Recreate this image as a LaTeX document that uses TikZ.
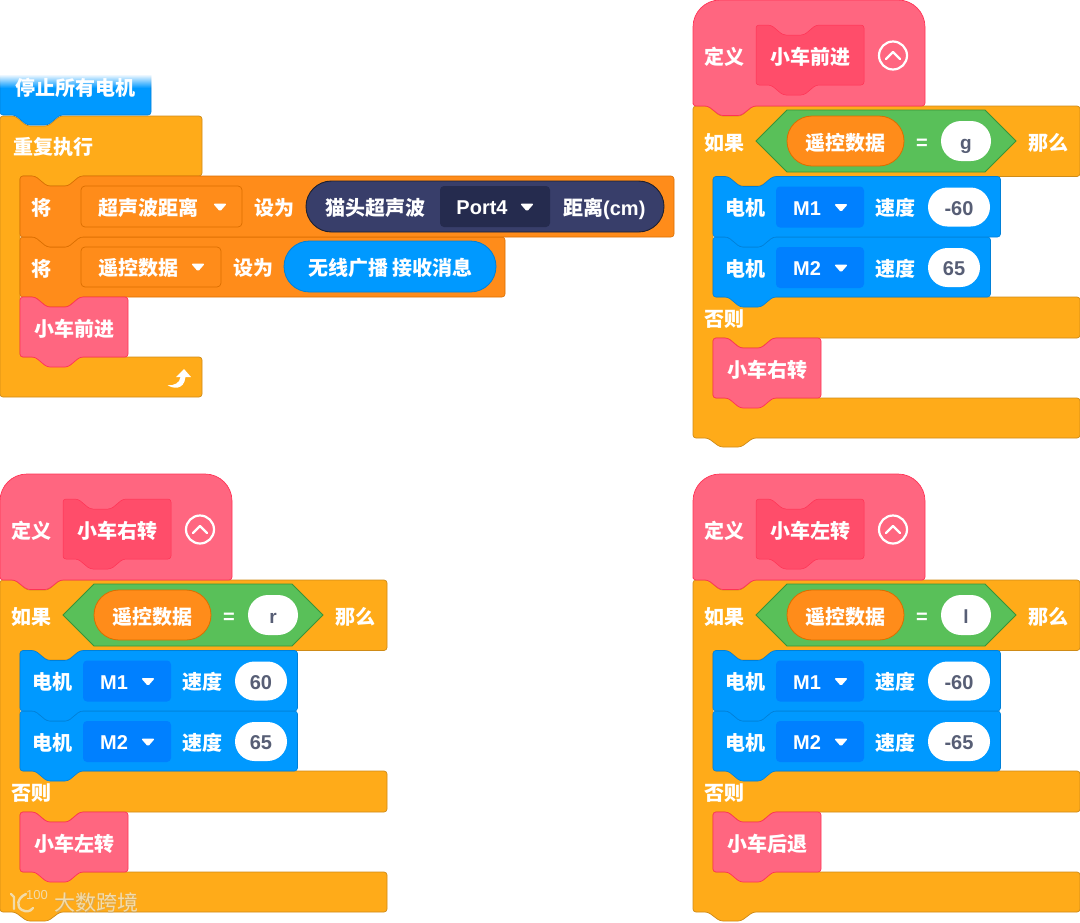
\documentclass[tikz,border=0pt]{standalone}
\usepackage{fontspec}
\setmainfont{Liberation Sans}
\newfontfamily\cjk{Noto Sans CJK SC}
\newfontfamily\lat{Liberation Sans}
\definecolor{ctl}{HTML}{FFAB19}\definecolor{ctlB}{HTML}{CF8B17}
\definecolor{var}{HTML}{FF8C1A}\definecolor{varB}{HTML}{DB6E00}
\definecolor{pnk}{HTML}{FF6680}\definecolor{pnkB}{HTML}{FF3355}\definecolor{pnkD}{HTML}{FF4D6A}
\definecolor{blu}{HTML}{0099FF}\definecolor{bluB}{HTML}{0080D8}\definecolor{bluD}{HTML}{0080FF}
\definecolor{grn}{HTML}{59C059}\definecolor{grnB}{HTML}{389438}
\definecolor{drk}{HTML}{383E6A}\definecolor{drkB}{HTML}{1E2030}\definecolor{drkD}{HTML}{252B4E}
\definecolor{inp}{HTML}{575E75}\definecolor{wm}{HTML}{F2DBAA}\definecolor{wmS}{HTML}{B9A98C}
\tikzset{
  ctlblock/.style={fill=ctl,draw=ctlB,line width=.7pt},
  varblock/.style={fill=var,draw=varB,line width=.6pt},
  pnkblock/.style={fill=pnk,draw=pnkB,line width=.7pt},
  pnkinner/.style={fill=pnkD,draw=pnkB,line width=.5pt},
  blublock/.style={fill=blu,draw=bluB,line width=.6pt},
  bludrop/.style={fill=bluD,rounded corners=4pt},
  vardrop/.style={fill=var,draw=varB,line width=.7pt,rounded corners=4pt},
  drkdrop/.style={fill=drkD,rounded corners=4pt},
  lbl/.style={font=\cjk\bfseries\fontsize{20}{20}\selectfont,text=white,inner sep=0pt,text height=18pt,text depth=2pt,xshift=.3pt},
  latlbl/.style={font=\lat\bfseries\fontsize{20}{20}\selectfont,text=white,inner sep=0pt,text height=18pt,text depth=2.8pt},
  valtxt/.style={font=\lat\bfseries\fontsize{20}{20}\selectfont,text=inp,inner sep=0pt,text height=18pt,text depth=2.8pt},
  wmtxt/.style={font=\cjk\fontsize{21}{21}\selectfont,text=wm,inner sep=0pt},
  wmline/.style={draw=wm,line cap=round,line join=round}
}
\newcounter{nn}
\newcommand\lb[3]{\stepcounter{nn}\node[lbl] (n\arabic{nn}) at ({#1},{#2}) {#3};}
\newcommand\lw[3]{\stepcounter{nn}\node[latlbl] (n\arabic{nn}) at ({#1},{#2}) {#3};}
\newcommand\vl[3]{\stepcounter{nn}\node[valtxt] (n\arabic{nn}) at ({#1},{#2}) {#3};}
\newcommand\blk[5]{\draw[#1,rounded corners=3pt] (#2,#3) -- (#2+15,#3) -- (#2+27,#3+10) -- (#2+48,#3+10) -- (#2+60,#3) -- (#4,#3) -- (#4,#5) -- (#2+60,#5) -- (#2+48,#5+10) -- (#2+27,#5+10) -- (#2+15,#5) -- (#2,#5) -- cycle;}
\newcommand\tri[2]{\fill[white,rounded corners=1.5pt] (#1-7,#2-3.5) -- (#1+7,#2-3.5) -- (#1,#2+4.5) -- cycle;}
\newcommand\motor[5]{% y1 y2 name value pillright
  \blk{blublock}{20}{#1}{#5+10.5}{#2}
  \lb{52}{#1+31}{电机}
  \fill[bludrop] (83,#1+10) rectangle (171,#1+51);
  \lw{114}{#1+31}{#3}
  \tri{148}{#1+31}
  \lb{202}{#1+31}{速度}
  \fill[white,rounded corners=19.5pt] (235,#1+11) rectangle (#5,#1+50);
  \vl{(235+#5)/2}{#1+31}{#4}
}
\newcommand\stack[9]{%
\begin{scope}[shift={(#1,#2)}]
  % C block
  \draw[ctlblock,rounded corners=3pt] (0,106) -- (15,106) -- (27,116) -- (48,116) -- (60,106) -- (387,106) -- (387,176.5) -- (80,176.5) -- (68,186) -- (47,186) -- (35,176.5) -- (20,176.5) -- (20,297) -- (387,297) -- (387,338) -- (80,338) -- (68,348) -- (47,348) -- (35,338) -- (20,338) -- (20,398) -- (387,398) -- (387,438) -- (60,438) -- (48,447) -- (27,447) -- (15,438) -- (0,438) -- cycle;
  % hat
  \draw[pnkblock,rounded corners=27pt] (0,106) -- (0,0) -- (232,0) [rounded corners=3pt] -- (232,106) -- (60,106) -- (48,115.5) -- (27,115.5) -- (15,106) -- (0,106) -- cycle;
  \blk{pnkinner}{63}{25}{171}{85}
  \lb{31}{56}{定义}
  \lb{117}{56}{#3}
  \draw[white,line width=2.2pt] (200,55.5) circle[radius=14];
  \draw[white,line width=2.4pt,line cap=round,line join=round] (193,59) -- (200,52) -- (207,59);
  % condition
  \lb{31}{142}{如果}
  \draw[fill=grn,draw=grnB,line width=.8pt] (63,141) -- (94,110) -- (292,110) -- (323,141) -- (292,172) -- (94,172) -- cycle;
  \draw[fill=var,draw=varB,line width=.8pt,rounded corners=25pt] (94,116) rectangle (211,166);
  \lb{152.5}{142}{遥控数据}
  \lw{229}{142}{=}
  \fill[white,rounded corners=20pt] (248,121) rectangle (298,161);
  \vl{273}{142}{\fontsize{19}{19}\selectfont #4}
  \lb{355}{142}{那么}
  \motor{237}{297}{M2}{#6}{#8}
  \motor{176.5}{237}{M1}{#5}{#7}
  \lb{31}{318.5}{否则}
  \blk{pnkblock}{20}{338}{128}{398}
  \lb{74}{369}{#9}
\end{scope}}
\begin{document}
\begin{tikzpicture}[x=1pt,y=-1pt]
\useasboundingbox (0,0) rectangle (1080,922);
\fill[white] (0,0) rectangle (1080,922);
% forever
\draw[ctlblock,rounded corners=3pt] (0,116) -- (15,116) -- (27,126) -- (48,126) -- (60,116) -- (202,116) -- (202,176) -- (80,176) -- (68,186) -- (47,186) -- (35,176) -- (20,176) -- (20,357) -- (202,357) -- (202,397) -- (0,397) -- cycle;
\draw[blublock,rounded corners=3pt] (0,60) -- (151,60) -- (151,115) -- (60,115) -- (48,125) -- (27,125) -- (15,115) -- (0,115) -- cycle;
\lb{75}{87}{停止所有电机}
\fill[white] (-1,50) rectangle (153,74);
\foreach \i in {0,...,13} {\fill[white,opacity={1-\i/14}] (-1,74+\i) rectangle (153,75+\i);}
\lb{53}{146}{重复执行}
\blk{varblock}{20}{237}{505}{297}
\blk{varblock}{20}{176}{674}{237}
\lb{41}{207}{将}
\draw[vardrop] (81,186) rectangle (242,227);
\lb{148}{207}{超声波距离}
\tri{220}{207}
\lb{274}{207}{设为}
\draw[fill=drk,draw=drkB,line width=.9pt,rounded corners=25.5pt] (306,181) rectangle (664,232);
\lb{375}{207}{猫头超声波}
\fill[drkdrop] (440,186) rectangle (550,227);
\lw{482}{207}{Port4}
\tri{527}{207}
\lb{604}{207}{距离{\lat (cm)}}
\lb{41}{268}{将}
\draw[vardrop] (81,247) rectangle (221,287);
\lb{138}{267}{遥控数据}
\tri{198}{267}
\lb{253}{267}{设为}
\draw[fill=blu,draw=bluB,line width=.8pt,rounded corners=25.5pt] (284,241) rectangle (496,292);
\lb{390}{267}{无线广播 接收消息}
\blk{pnkblock}{20}{297}{128}{357}
\lb{74}{328}{小车前进}
% loop arrow
\fill[white] (167.5,385) .. controls (172,388.5) and (184,391) .. (185.5,377) -- (191,377) -- (184,369) -- (176,377) -- (180.5,377) .. controls (180,383) and (174,386) .. cycle;
% stacks
\stack{693}{0}{小车前进}{g}{-60}{65}{297}{287}{小车右转}
\stack{0}{474}{小车右转}{r}{60}{65}{287}{287}{小车左转}
\stack{693}{474}{小车左转}{l}{-60}{-65}{297}{297}{小车后退}
% watermark
\node[wmtxt,text=wmS,opacity=.55] (wm0) at (97,903.5) {大数跨境};
\node[wmtxt] (wm1) at (96,902.5) {大数跨境};
\node[wmtxt,font=\lat\fontsize{13}{13}\selectfont] (wm3) at (37,895) {100};
\draw[wmline,line width=2.4pt] (11,894) -- (14,897) -- (14,909);
\draw[wmline,line width=2.4pt] (26,894) .. controls (17,898) and (16,907) .. (22,910) .. controls (26,912) and (30,912) .. (33,908);
\end{tikzpicture}
\end{document}
